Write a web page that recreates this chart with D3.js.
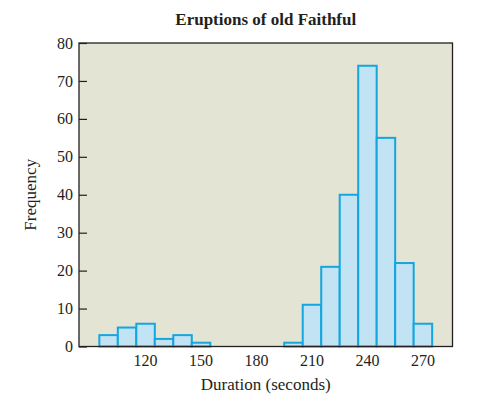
<!DOCTYPE html>
<html>
<head>
<meta charset="utf-8">
<script src="https://cdn.jsdelivr.net/npm/d3@7"></script>
<style>
  body { margin: 0; background: #fff; }
  text { font-family: "Liberation Serif", "DejaVu Serif", serif; fill: #231f20; }
</style>
</head>
<body>
<svg id="chart" width="502" height="399"></svg>
<script>
// bin centres (seconds) and counts
var binCenters = [100, 110, 120, 130, 140, 150, 200, 210, 220, 230, 240, 250, 260, 270];
var counts     = [3, 5, 6, 2, 3, 1, 1, 11, 21, 40, 74, 55, 22, 6];
var binWidth = 10;
var xTicks = [120, 150, 180, 210, 240, 270];
var yTicks = [0, 10, 20, 30, 40, 50, 60, 70, 80];

var svg = d3.select("#chart");
// panel edges (window.top is reserved, so plot* names)
var plotL = 79, plotR = 452.5, plotT = 43, plotB = 346.5;

var x = d3.scaleLinear().domain([84, 286]).range([plotL, plotR]);
var y = d3.scaleLinear().domain([0, 80]).range([plotB, plotT]);

// panel background
svg.append("rect")
  .attr("x", plotL).attr("y", plotT)
  .attr("width", plotR - plotL).attr("height", plotB - plotT)
  .attr("fill", "#e4e4d4");

// bars
svg.append("g").selectAll("rect")
  .data(binCenters)
  .enter().append("rect")
  .attr("x", function(d) { return x(d - binWidth / 2); })
  .attr("y", function(d, i) { return y(counts[i]); })
  .attr("width", function(d) { return x(d + binWidth / 2) - x(d - binWidth / 2); })
  .attr("height", function(d, i) { return y(0) - y(counts[i]); })
  .attr("fill", "#c1e3f3")
  .attr("stroke", "#14a6df")
  .attr("stroke-width", 2);

// y axis: ticks point inward
var yAxis = svg.append("g")
  .attr("transform", "translate(" + plotL + ",0)")
  .call(d3.axisRight(y).tickValues(yTicks).tickSize(8).tickFormat(""));
yAxis.select(".domain").remove();
yAxis.selectAll("line").attr("stroke", "#231f20").attr("stroke-width", 1.2);

svg.append("g").selectAll("text")
  .data(yTicks)
  .enter().append("text")
  .attr("x", plotL - 6)
  .attr("y", function(d) { return y(d); })
  .attr("dy", "0.35em")
  .attr("text-anchor", "end")
  .style("font-size", "16px")
  .text(function(d) { return d; });

// x tick labels (no tick marks)
svg.append("g").selectAll("text")
  .data(xTicks)
  .enter().append("text")
  .attr("x", function(d) { return x(d); })
  .attr("y", 366)
  .attr("text-anchor", "middle")
  .style("font-size", "16px")
  .text(function(d) { return d; });

// frame
svg.append("rect")
  .attr("x", plotL).attr("y", plotT)
  .attr("width", plotR - plotL).attr("height", plotB - plotT)
  .attr("fill", "none")
  .attr("stroke", "#231f20")
  .attr("stroke-width", 1.3);

// titles
svg.append("text")
  .attr("x", (plotL + plotR) / 2).attr("y", 25)
  .attr("text-anchor", "middle")
  .style("font-size", "17px").style("font-weight", "bold")
  .text("Eruptions of old Faithful");

svg.append("text")
  .attr("x", (plotL + plotR) / 2).attr("y", 390)
  .attr("text-anchor", "middle")
  .style("font-size", "17px")
  .text("Duration (seconds)");

svg.append("text")
  .attr("transform", "translate(36," + (plotT + plotB) / 2 + ") rotate(-90)")
  .attr("text-anchor", "middle")
  .style("font-size", "17px")
  .text("Frequency");
</script>
</body>
</html>
